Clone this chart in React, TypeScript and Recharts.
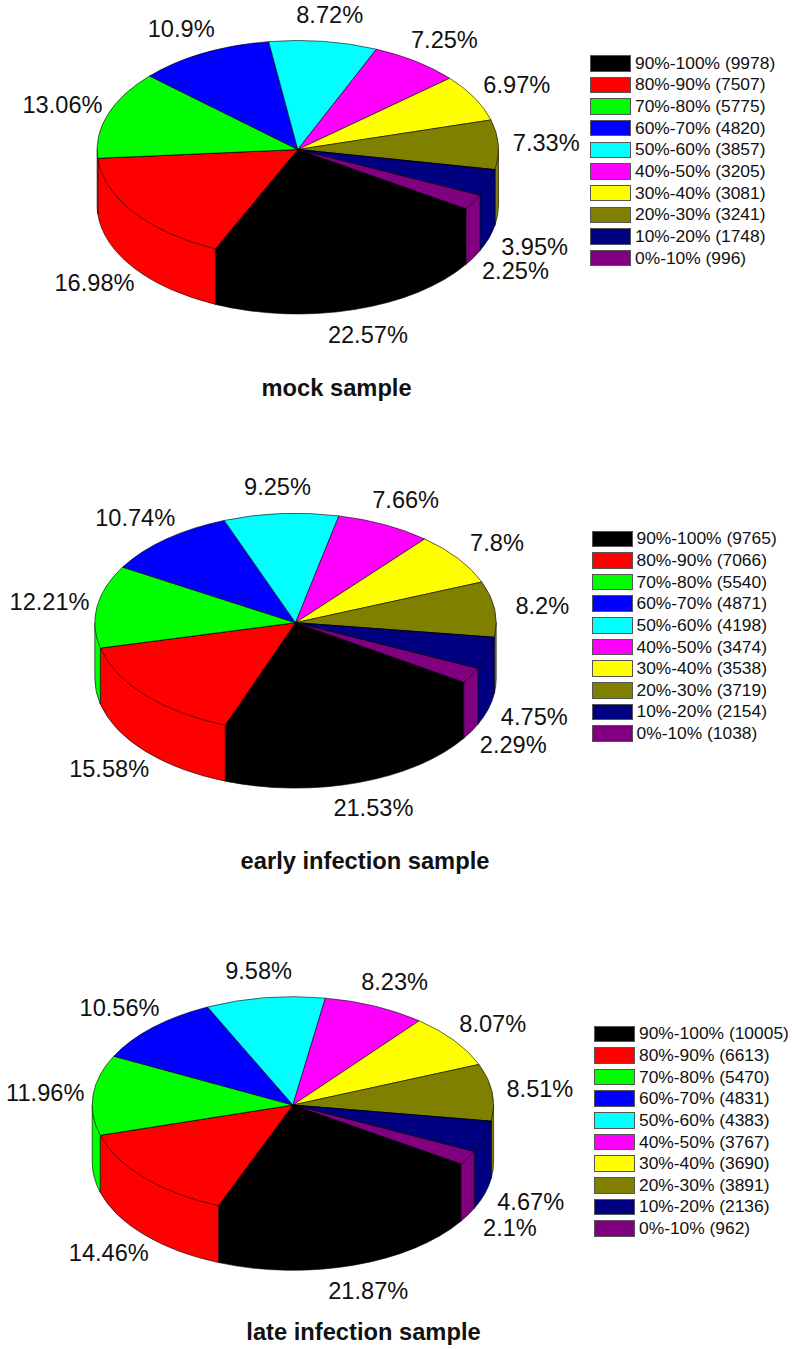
import { PieChart, Pie, Legend } from "recharts";

// shared by all three samples
const bins = ["90%-100%", "80%-90%", "70%-80%", "60%-70%", "50%-60%", "40%-50%", "30%-40%", "20%-30%", "10%-20%", "0%-10%"];
const colors = ["#000000", "#ff0000", "#00ff00", "#0000ff", "#00ffff", "#ff00ff", "#ffff00", "#808000", "#000080", "#800080"];

const mockCounts = [9978, 7507, 5775, 4820, 3857, 3205, 3081, 3241, 1748, 996];
const earlyCounts = [9765, 7066, 5540, 4871, 4198, 3474, 3538, 3719, 2154, 1038];
const lateCounts = [10005, 6613, 5470, 4831, 4383, 3767, 3690, 3891, 2136, 962];

const mockLabels = ["22.57%", "16.98%", "13.06%", "10.9%", "8.72%", "7.25%", "6.97%", "7.33%", "3.95%", "2.25%"];
const earlyLabels = ["21.53%", "15.58%", "12.21%", "10.74%", "9.25%", "7.66%", "7.8%", "8.2%", "4.75%", "2.29%"];
const lateLabels = ["21.87%", "14.46%", "11.96%", "10.56%", "9.58%", "8.23%", "8.07%", "8.51%", "4.67%", "2.1%"];

const FONT = '"Liberation Sans", Arial, sans-serif';
const START_ANGLE = -33;
const RAD = Math.PI / 180;

interface PanelProps {
  title: string;
  counts: number[];
  labels: string[];
  top: number;
  height: number;
  cx: number;
  cy: number;
  rx: number;
  ry: number;
  depth: number;
  titleX: number;
  titleY: number;
  legendLeft: number;
  legendTop: number;
}

function Panel(p: PanelProps) {
  const data = bins.map((bin, i) => ({
    name: `${bin} (${p.counts[i]})`,
    value: p.counts[i],
    fill: colors[i],
  }));
  const squash = p.ry / p.rx;

  // the pie is circular in the library, we flatten it to an ellipse here
  const point = (cx: number, cy: number, r: number, angle: number) => ({
    x: cx + r * Math.cos(angle * RAD),
    y: cy - r * squash * Math.sin(angle * RAD),
  });

  const renderSlice = (s: any) => {
    const { cx, cy, outerRadius: r, startAngle, endAngle, fill } = s;
    const a = point(cx, cy, r, startAngle);
    const b = point(cx, cy, r, endAngle);
    const ry = r * squash;
    const top = `M${cx},${cy}L${a.x},${a.y}A${r},${ry} 0 0 1 ${b.x},${b.y}Z`;

    // only the part of the rim facing the viewer gets a side wall,
    // it runs back to the centre so no white seam shows under the top face
    const walls: string[] = [];
    [[0, -180], [-360, -540]].forEach(([hi, lo]) => {
      const from = Math.min(startAngle, hi);
      const to = Math.max(endAngle, lo);
      if (from <= to) return;
      const p1 = point(cx, cy, r, from);
      const p2 = point(cx, cy, r, to);
      walls.push(
        `M${cx},${cy}L${p2.x},${p2.y}L${p2.x},${p2.y + p.depth}A${r},${ry} 0 0 0 ${p1.x},${p1.y + p.depth}L${p1.x},${p1.y}Z`
      );
    });

    return (
      <g>
        {walls.map((d) => (
          <path key={d} d={d} fill={fill} stroke="#000" strokeWidth={0.6} />
        ))}
        <path d={top} fill={fill} stroke="#000" strokeWidth={0.6} />
      </g>
    );
  };

  const renderLabel = (s: any) => {
    const sin = Math.sin(s.midAngle * RAD);
    const x = s.cx + (p.rx + 48) * Math.cos(s.midAngle * RAD);
    const y = s.cy - (p.ry + 27) * sin + (sin < 0 ? p.depth : 0);
    return (
      <text
        x={x}
        y={y}
        textAnchor="middle"
        dominantBaseline="central"
        fontFamily={FONT}
        fontSize={23.6}
        fill="#111"
      >
        {p.labels[s.index]}
      </text>
    );
  };

  const renderLegend = ({ payload }: any) => (
    <div style={{ fontFamily: FONT, fontSize: 17.4, color: "#111" }}>
      {(payload || []).map((item: any) => (
        <div key={item.value} style={{ display: "flex", alignItems: "center", height: 21.65 }}>
          <span
            style={{
              width: 39,
              height: 14.5,
              marginRight: 4,
              background: item.color,
              border: "0.5px solid #555",
            }}
          />
          <span style={{ whiteSpace: "nowrap" }}>{item.value}</span>
        </div>
      ))}
    </div>
  );

  return (
    <div style={{ position: "absolute", left: 0, top: p.top }}>
      <PieChart width={792} height={p.height} margin={{ top: 0, right: 0, bottom: 0, left: 0 }}>
        <Pie
          data={data}
          dataKey="value"
          nameKey="name"
          cx={p.cx}
          cy={p.cy}
          outerRadius={p.rx}
          startAngle={START_ANGLE}
          endAngle={START_ANGLE - 360}
          shape={renderSlice}
          label={renderLabel}
          labelLine={false}
          isAnimationActive={false}
        />
        <Legend
          layout="vertical"
          align="right"
          verticalAlign="top"
          itemSorter={null}
          content={renderLegend}
          wrapperStyle={{ left: p.legendLeft, top: p.legendTop, width: 200 }}
        />
        <text
          x={p.titleX}
          y={p.titleY}
          textAnchor="middle"
          dominantBaseline="central"
          fontFamily={FONT}
          fontSize={23.7}
          fontWeight="bold"
          fill="#111"
        >
          {p.title}
        </text>
      </PieChart>
    </div>
  );
}

export default function App() {
  return (
    <div style={{ position: "absolute", left: 0, top: 0, width: 792, height: 1349, background: "#fff", overflow: "hidden" }}>
      <Panel title="mock sample" counts={mockCounts} labels={mockLabels} top={0} height={470}
        cx={297.8} cy={149.5} rx={200.7} ry={109} depth={55.5}
        titleX={336.6} titleY={388} legendLeft={590} legendTop={52.5} />
      <Panel title="early infection sample" counts={earlyCounts} labels={earlyLabels} top={470} height={480}
        cx={295.5} cy={152.7} rx={200.7} ry={109.4} depth={56}
        titleX={365} titleY={390.7} legendLeft={591.5} legendTop={58} />
      <Panel title="late infection sample" counts={lateCounts} labels={lateLabels} top={950} height={399}
        cx={292.9} cy={155} rx={200.7} ry={108.3} depth={57}
        titleX={363.5} titleY={381.7} legendLeft={594} legendTop={73} />
    </div>
  );
}
